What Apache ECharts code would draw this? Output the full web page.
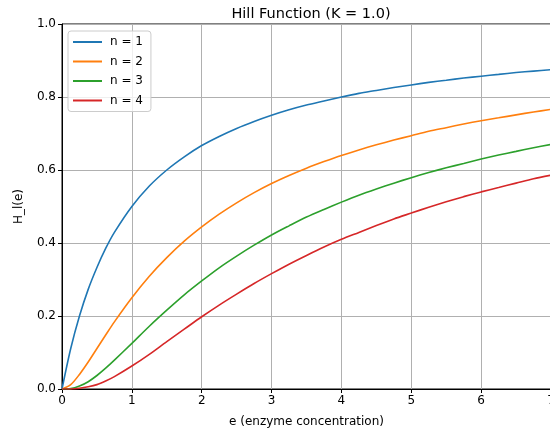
<!DOCTYPE html>
<html>
<head>
<meta charset="utf-8">
<script src="https://cdn.jsdelivr.net/npm/echarts@6/dist/echarts.min.js"></script>
<style>html,body{margin:0;padding:0;background:#fff}#c{width:550px;height:435px}</style>
</head>
<body>
<div id="c"></div>
<script>
const eValues = [0,0.125,0.25,0.375,0.5,0.625,0.75,1,1.25,1.5,1.75,2,2.25,2.5,2.75,3,3.25,3.5,3.75,4,4.25,4.5,4.75,5,5.25,5.5,5.75,6,6.25,6.5,6.75,7];
const n1 = [0,0.111,0.2,0.273,0.333,0.385,0.429,0.5,0.556,0.6,0.636,0.667,0.692,0.714,0.733,0.75,0.765,0.778,0.789,0.8,0.81,0.818,0.826,0.833,0.84,0.846,0.852,0.857,0.862,0.867,0.871,0.875];
const n2 = [0,0.012,0.04,0.074,0.111,0.148,0.184,0.25,0.309,0.36,0.405,0.444,0.479,0.51,0.538,0.563,0.585,0.605,0.623,0.64,0.655,0.669,0.682,0.694,0.706,0.716,0.726,0.735,0.743,0.751,0.759,0.766];
const n3 = [0,0.001,0.008,0.02,0.037,0.057,0.079,0.125,0.172,0.216,0.258,0.296,0.332,0.364,0.394,0.422,0.447,0.471,0.492,0.512,0.531,0.548,0.564,0.579,0.593,0.606,0.618,0.63,0.641,0.651,0.661,0.67];
const n4 = [0,0.0002,0.002,0.006,0.012,0.022,0.034,0.063,0.095,0.13,0.164,0.198,0.23,0.26,0.289,0.316,0.342,0.366,0.389,0.41,0.429,0.448,0.466,0.482,0.498,0.513,0.527,0.54,0.552,0.564,0.576,0.586];
const seriesNames = ['n = 1','n = 2','n = 3','n = 4'];
const seriesColors = ['#1f77b4','#ff7f0e','#2ca02c','#d62728'];
const xTicks = [0,1,2,3,4,5,6,7];
const yTicks = [0,0.2,0.4,0.6,0.8,1.0];

const allData = [n1,n2,n3,n4];
const font = 'DejaVu Sans';
const chart = echarts.init(document.getElementById('c'), null, {renderer:'canvas'});
chart.setOption({
  animation:false,
  backgroundColor:'#fff',
  title:{text:'Hill Function (K = 1.0)',left:306,textAlign:'center',top:2,
    textStyle:{fontFamily:font,fontSize:14.5,fontWeight:'normal',color:'#000'}},
  grid:{left:62,right:-1,top:24,bottom:46,show:true,borderColor:'#000',borderWidth:1,backgroundColor:'transparent',
    outerBoundsMode:'none',containLabel:false},
  legend:{
    data:seriesNames, orient:'vertical', left:68, top:31,
    icon:'rect', itemWidth:29, itemHeight:2, itemGap:7.5,
    textStyle:{fontFamily:font,fontSize:12,color:'#000',padding:[0,0,0,3]},
    backgroundColor:'rgba(255,255,255,0.8)', borderColor:'#cccccc', borderWidth:1, borderRadius:3,
    padding:[5,8,5,5]
  },
  xAxis:{type:'value',min:xTicks[0],max:xTicks[xTicks.length-1],interval:1,
    name:'e (enzyme concentration)',nameLocation:'middle',nameGap:27,
    nameTextStyle:{fontFamily:font,fontSize:12,color:'#000'},
    axisLine:{show:true,lineStyle:{color:'#000',width:1}},
    axisTick:{show:true,length:4,lineStyle:{color:'#000'}},
    axisLabel:{fontFamily:font,fontSize:12,color:'#000',margin:6,showMaxLabel:true,hideOverlap:false},
    splitLine:{show:true,lineStyle:{color:'#b0b0b0',width:1}}},
  yAxis:{type:'value',min:yTicks[0],max:yTicks[yTicks.length-1],interval:0.2,
    name:'H_l(e)',nameLocation:'middle',nameGap:37,
    nameTextStyle:{fontFamily:font,fontSize:12,color:'#000'},
    axisLine:{show:true,lineStyle:{color:'#000',width:1}},
    axisTick:{show:true,length:4,lineStyle:{color:'#000'}},
    axisLabel:{fontFamily:font,fontSize:12,color:'#000',margin:6,formatter:v=>v.toFixed(1)},
    splitLine:{show:true,lineStyle:{color:'#b0b0b0',width:1}}},
  series: allData.map((d,i)=>({
    name:seriesNames[i], type:'line', smooth:0.3, showSymbol:false, symbol:'none',
    color:seriesColors[i], lineStyle:{width:1.6,color:seriesColors[i]},
    data:eValues.map((x,j)=>[x,d[j]])
  }))
});
</script>
</body>
</html>
